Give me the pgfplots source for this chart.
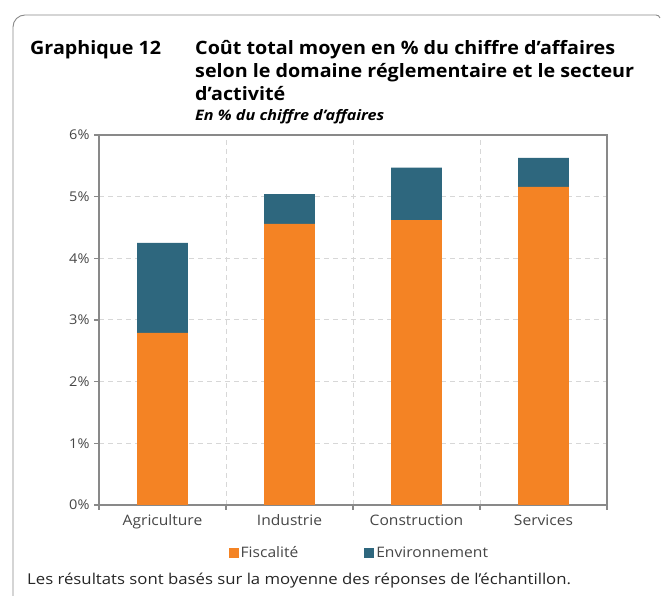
\documentclass[border=0pt]{standalone}
\usepackage{pgfplots}
\pgfplotsset{compat=1.18}
\usepackage{fontspec}
\setmainfont[FakeStretch=1.08]{Open Sans}
\newfontfamily\titlefont[FakeStretch=1.07]{Open Sans}
\newfontfamily\widefont[FakeStretch=1.12]{Open Sans}
\definecolor{orng}{RGB}{244,131,36}
\definecolor{tealb}{RGB}{46,103,126}
\definecolor{axgray}{RGB}{137,137,137}
\definecolor{gridgray}{RGB}{215,215,215}
\definecolor{txtgray}{RGB}{70,70,70}
\begin{document}
\begin{tikzpicture}[x=1bp,y=1bp]
\useasboundingbox (0,0) rectangle (662,596);
\draw[axgray, line width=0.9bp, rounded corners=12bp] (13,0) -- (13,581) -- (656,581);
\draw[axgray, line width=0.9bp] (656,581) to[out=0,in=110] (660,578);
\node[anchor=base west, inner sep=0, font=\titlefont\bfseries\fontsize{18.5}{23}\selectfont] at (30,541) {Graphique 12};
\node[anchor=base west, inner sep=0, font=\titlefont\bfseries\fontsize{18.5}{23}\selectfont] at (195,541) {Coût total moyen en \% du chiffre d’affaires};
\node[anchor=base west, inner sep=0, font=\titlefont\bfseries\fontsize{18.5}{23}\selectfont] at (195,518) {selon le domaine réglementaire et le secteur};
\node[anchor=base west, inner sep=0, font=\titlefont\bfseries\fontsize{18.5}{23}\selectfont] at (195,495) {d’activité};
\node[anchor=base west, inner sep=0, font=\widefont\bfseries\itshape\fontsize{14.5}{16}\selectfont] at (195,475) {En \% du chiffre d’affaires};
\node[anchor=base west, inner sep=0, text=black!85, font=\widefont\fontsize{15}{17}\selectfont] at (27,11) {Les résultats sont basés sur la moyenne des réponses de l’échantillon.};
\begin{axis}[
  at={(99bp,91bp)}, anchor=south west,
  width=508bp, height=370bp, scale only axis,
  ybar stacked, bar width=0.4,
  xmin=0.5, xmax=4.5, ymin=0, ymax=6,
  xtick={1,2,3,4},
  xticklabels={Agriculture,Industrie,Construction,Services},
  major x tick style={draw=none},
  minor xtick={0.5,1.5,2.5,3.5,4.5},
  minor x tick style={axgray, line width=1.5bp},
  minor tick length=5bp,
  xminorgrids=true,
  ytick={0,1,2,3,4,5,6},
  yticklabel={\pgfmathprintnumber{\tick}\%},
  ymajorgrids=true,
  grid style={gridgray, line width=1bp, dash pattern=on 5bp off 4bp},
  minor grid style={gridgray, line width=1bp, dash pattern=on 5bp off 4bp},
  major y tick style={axgray, line width=1.5bp},
  major tick length=5bp,
  tick align=outside,
  tick pos=left,
  axis line style={axgray, line width=2.5bp},
  /pgf/number format/assume math mode=true,
  yticklabel style={font=\fontsize{13.5}{15}\selectfont, text=txtgray, xshift=-1bp},
  xticklabel style={font=\fontsize{14.5}{16}\selectfont, text=txtgray, yshift=-1bp},
  legend style={at={(0.5125,-0.13)}, anchor=center, draw=none, fill=none,
    font=\fontsize{14.5}{16}\selectfont, text=txtgray, legend columns=2,
    /tikz/every even column/.append style={column sep=64bp}},
  legend cell align=left,
  legend image code/.code={\fill[#1] (0bp,-5bp) rectangle (10bp,5bp);},
]
\addplot[fill=orng, draw=none] coordinates {(1,2.79) (2,4.56) (3,4.62) (4,5.16)};
\addplot[fill=tealb, draw=none] coordinates {(1,1.46) (2,0.48) (3,0.85) (4,0.47)};
\legend{Fiscalité,Environnement}
\end{axis}
\end{tikzpicture}
\end{document}
